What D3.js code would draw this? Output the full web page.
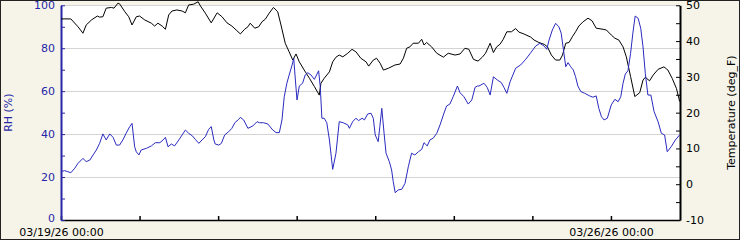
<!DOCTYPE html>
<html>
<head>
<meta charset="utf-8">
<script src="https://cdn.jsdelivr.net/npm/d3@7"></script>
<style>
  html, body { margin: 0; padding: 0; background: #fff; }
  svg text { font-family: "DejaVu Sans", Verdana, sans-serif; font-size: 11px; }
</style>
</head>
<body>
<div id="chart"></div>
<script>
// readings, hours after 03/19/26 00:00
var tempHours = [0, 3, 5.2, 6.7, 7.7, 9.3, 11.1, 11.8, 12.8, 13.8, 15.4, 16.2, 17.4, 17.9, 19.5, 20.7, 21.7, 23, 24, 25.6,
  27.6, 28.6, 29.6, 30.9, 31.9, 32.9, 33.9, 35.4, 37, 38, 39, 40.5, 41.9, 42.6, 44.1, 45.9, 47.7, 49.2, 50.7, 52.2,
  53.5, 54.8, 56.1, 57.1, 57.8, 59.2, 60.4, 61.4, 62.4, 63.6, 64.9, 66.2, 67.2, 68.5, 69.7, 70.8, 71.8, 72.8, 74.3, 75.9,
  77.4, 78.9, 79.4, 80.4, 82, 83, 84, 85, 86.1, 87.6, 88.9, 90.1, 91.6, 93.2, 94, 95.4, 96.4, 97.5, 98.5, 100,
  102, 103.6, 104.6, 105.6, 106.6, 107.6, 109.2, 110.2, 110.9, 111.7, 113.2, 114.8, 116.8, 118.3, 120.4, 121.9, 123.4, 124.6, 126, 127.4,
  128.7, 129.7, 131.1, 132.1, 133.1, 134.1, 135.1, 136.2, 137.6, 138.9, 139.9, 141.4, 143.5, 144.5, 146, 147.6, 148.6, 149.8, 151.1, 152.4,
  153.2, 154.2, 155.2, 156.2, 157.2, 158.2, 159.5, 161, 162.2, 163.5, 165.6, 166.6, 168.1, 169.2, 170.4, 171.7, 172.7, 174, 175.3, 176.8,
  177.8, 178.5, 179.8, 180.9, 182.4, 184.2, 185.4, 186.7, 188, 189];
var tempF = [46.2, 46.2, 44.0, 42.2, 44.5, 45.9, 47.0, 46.7, 46.8, 49.2, 49.4, 49.2, 50.6, 50.4, 48.2, 46.8, 44.5, 46.8, 47.0, 45.9,
  45.0, 44.2, 45.0, 44.2, 43.3, 47.3, 48.4, 48.7, 48.4, 47.9, 50.1, 50.3, 51.0, 49.8, 47.8, 45.1, 47.9, 46.8, 45.1, 44.2,
  43.1, 42.0, 43.3, 44.0, 45.0, 43.6, 44.0, 45.4, 46.1, 47.8, 49.4, 48.2, 44.5, 39.4, 37.0, 34.7, 36.4, 34.2, 31.9, 29.6,
  27.3, 24.9, 28.2, 29.6, 31.4, 34.2, 35.5, 36.1, 35.6, 36.6, 37.7, 37.0, 35.2, 34.2, 33.0, 34.7, 35.2, 33.8, 31.9, 32.4,
  33.3, 33.6, 35.2, 38.0, 38.4, 39.4, 39.4, 40.5, 38.9, 39.6, 38.4, 36.6, 35.5, 36.6, 36.1, 36.4, 38.0, 37.7, 34.9, 34.4,
  35.5, 36.6, 39.4, 36.8, 38.4, 39.1, 40.5, 42.6, 42.6, 43.5, 42.5, 42.0, 41.1, 40.3, 39.6, 39.1, 38.4, 36.1, 34.7, 34.7,
  36.1, 39.4, 39.6, 41.2, 42.6, 44.2, 45.4, 46.4, 45.7, 43.6, 43.3, 43.1, 41.7, 40.8, 40.3, 38.4, 35.6, 30.1, 24.5, 25.6,
  29.1, 29.9, 28.9, 30.5, 32.1, 32.8, 31.9, 29.6, 26.8, 23.1];

var rhHours = [0, 1.1, 2.1, 3, 4.2, 5.2, 6.7, 7.7, 8.8, 9.8, 10.8, 11.8, 12.8, 13.8, 14.9, 15.9, 16.9, 17.9, 18.9, 19.9,
  21, 21.7, 22.5, 23, 23.8, 24.5, 26.1, 27.6, 28.8, 30.2, 31.2, 31.9, 32.7, 33.7, 34.7, 36, 37, 38, 39, 40.2,
  41, 42.1, 43.1, 44.1, 45.1, 45.9, 46.7, 47.1, 48.2, 49, 50, 51.2, 52.2, 53.1, 54.3, 54.8, 55.8, 57.1, 58.6, 59.9,
  60.6, 61.9, 63.2, 64.7, 65.7, 66.7, 67.5, 68.2, 69, 69.7, 70.6, 71.1, 71.6, 72.1, 72.8, 73.8, 74.6, 75.4, 76.4, 77.4,
  78.7, 79.2, 79.7, 80.4, 81.2, 82, 83, 84, 85, 86.2, 87.6, 88.1, 89.1, 90.1, 90.9, 92, 92.7, 93.7, 94.7, 95.4,
  96, 96.9, 97.4, 98, 98.7, 99.3, 100.3, 101, 101.5, 102.1, 103, 104.1, 105.1, 106.1, 107.1, 108.1, 109.2, 110.2, 110.9, 111.9,
  112.7, 113.7, 114.8, 115.8, 116.8, 117.8, 118.8, 119.8, 121.1, 121.9, 123.1, 124.4, 125.5, 126.5, 127.2, 127.7, 129.2, 130.2, 131.1, 132.1,
  133.3, 134.5, 135.3, 136.2, 137.2, 138.9, 140.4, 142, 143.5, 145, 146.3, 147.6, 148.4, 149.1, 150.1, 151.1, 152.1, 152.8, 153.5, 154.2,
  154.9, 155.7, 156.5, 157.2, 157.9, 158.8, 160, 161.5, 162.5, 163.5, 164.3, 165.1, 165.9, 166.9, 168.1, 169.2, 170.2, 171, 171.7, 172.4,
  173.2, 174, 174.7, 175.4, 176.3, 177.1, 177.8, 178.5, 179.3, 180.2, 181.2, 182.4, 183.4, 184.4, 185.2, 186.4, 187.7, 189];
var rhPct = [22.5, 23.0, 22.5, 22.0, 24.1, 26.4, 28.7, 27.2, 27.9, 30.3, 32.6, 35.7, 40.1, 37.3, 40.1, 38.5, 34.9, 34.9, 37.3, 40.4,
  43.5, 45.0, 34.1, 31.8, 30.3, 32.6, 33.4, 34.5, 36.0, 36.0, 37.3, 38.5, 34.1, 35.4, 34.5, 37.3, 39.6, 41.9, 40.4, 39.1,
  37.6, 35.7, 37.3, 38.8, 42.2, 43.5, 37.3, 35.4, 34.9, 35.7, 39.6, 41.1, 42.7, 45.3, 46.9, 47.8, 46.6, 42.7, 43.8, 45.8,
  45.3, 45.3, 44.7, 41.9, 40.7, 40.7, 46.6, 57.4, 63.7, 67.5, 72.2, 75.3, 65.2, 55.9, 62.4, 63.7, 67.5, 68.6, 67.5, 65.5,
  69.5, 62.1, 47.4, 47.4, 45.3, 37.3, 23.6, 31.1, 45.8, 45.3, 44.3, 42.7, 45.8, 47.4, 46.3, 47.4, 46.6, 49.4, 49.7, 47.4,
  39.6, 36.5, 43.5, 52.0, 40.4, 31.1, 27.2, 23.3, 17.8, 12.7, 14.0, 14.3, 17.1, 24.8, 31.1, 30.3, 31.8, 32.9, 36.0, 34.5,
  37.3, 38.1, 40.4, 44.3, 48.9, 53.1, 54.0, 57.4, 62.4, 59.3, 57.4, 54.0, 55.9, 61.8, 62.4, 62.4, 63.7, 61.8, 58.2, 66.7,
  65.2, 64.0, 61.8, 59.0, 64.4, 70.7, 72.2, 74.9, 77.9, 81.0, 82.3, 81.0, 79.5, 83.8, 88.5, 91.6, 90.0, 87.0, 79.2, 71.4,
  73.3, 71.4, 69.9, 66.7, 62.4, 59.8, 59.0, 57.8, 57.2, 57.8, 52.0, 48.1, 46.6, 47.4, 53.6, 56.2, 55.1, 57.4, 63.7, 68.0,
  69.5, 77.6, 87.0, 95.0, 94.0, 89.3, 80.7, 68.3, 58.2, 58.2, 50.4, 45.8, 40.4, 39.6, 31.8, 34.1, 37.3, 39.6];

var rhTicks = [0, 10, 20, 30, 40, 50, 60, 70, 80, 90, 100];
var tempTicks = [-10, -5, 0, 5, 10, 15, 20, 25, 30, 35, 40, 45, 50];
var labelDays = ["03/19/26 00:00", "03/26/26 00:00"];

var width = 740,
  height = 240,
  plotLeft = 61,
  plotRight = 680,
  plotTop = 5.3,
  plotBottom = 220;

var blue = "#2626a8",
  lineBlue = "#2a2ac0";

var start = new Date(2026, 2, 19, 0, 0);
var hoursToDate = function (h) {
  return new Date(start.getTime() + h * 3600 * 1000);
};

var svg = d3
  .select("#chart")
  .append("svg")
  .attr("width", width)
  .attr("height", height);

svg
  .append("rect")
  .attr("x", 0.5)
  .attr("y", 0.5)
  .attr("width", width - 1)
  .attr("height", height - 1)
  .attr("fill", "#f6f4e9")
  .attr("stroke", "#222");

svg
  .append("rect")
  .attr("x", plotLeft)
  .attr("y", plotTop)
  .attr("width", plotRight - plotLeft)
  .attr("height", plotBottom - plotTop)
  .attr("fill", "#fff");

var xScale = d3
  .scaleTime()
  .domain([start, hoursToDate(189.1)])
  .range([plotLeft, plotRight]);
var yRH = d3.scaleLinear().domain([0, 100]).range([plotBottom, plotTop]);
var yTemp = d3.scaleLinear().domain([-10, 50]).range([plotBottom, plotTop]);

// grid at the major RH ticks
svg
  .append("g")
  .selectAll("line")
  .data(rhTicks.filter((d) => d > 0 && d % 20 === 0))
  .enter()
  .append("line")
  .attr("x1", plotLeft)
  .attr("x2", plotRight)
  .attr("y1", (d) => Math.round(yRH(d)) + 0.5)
  .attr("y2", (d) => Math.round(yRH(d)) + 0.5)
  .attr("stroke", "#d4d4d4");

var fmt = d3.timeFormat("%m/%d/%y %H:%M");

var xAxis = d3
  .axisBottom(xScale)
  .ticks(d3.timeDay.every(1))
  .tickSizeInner(-4)
  .tickSizeOuter(0)
  .tickPadding(8)
  .tickFormat((d) => (labelDays.indexOf(fmt(d)) >= 0 ? fmt(d) : ""));

var gx = svg
  .append("g")
  .attr("transform", "translate(0," + plotBottom + ")")
  .call(xAxis);
gx.selectAll("text").attr("fill", "#000");
gx.selectAll("line, path").attr("stroke", "#000").attr("stroke-width", 1.5);

var gl = svg
  .append("g")
  .attr("transform", "translate(" + plotLeft + ",0)")
  .call(
    d3
      .axisLeft(yRH)
      .tickValues(rhTicks)
      .tickSizeInner(-4)
      .tickSizeOuter(0)
      .tickPadding(6)
      .tickFormat((d) => (d % 20 === 0 ? d : ""))
  );
gl.selectAll("text").attr("fill", blue);
gl.selectAll("line").attr("stroke", blue);
gl.select("path").attr("stroke", blue).attr("stroke-width", 2);
// the 0 label sits just above the corner
gl.selectAll(".tick text").filter((d) => d === 0).attr("dy", "0.1em");

var gr = svg
  .append("g")
  .attr("transform", "translate(" + plotRight + ",0)")
  .call(
    d3
      .axisRight(yTemp)
      .tickValues(tempTicks)
      .tickSizeInner(-4)
      .tickSizeOuter(0)
      .tickPadding(6)
      .tickFormat((d) => (d % 10 === 0 ? d : ""))
  );
gr.selectAll("text").attr("fill", "#000");
gr.selectAll("line").attr("stroke", "#000");
gr.select("path").attr("stroke", "#000").attr("stroke-width", 2);

svg.selectAll(".tick text").style("font-size", "11px").style("font-family", '"DejaVu Sans", Verdana, sans-serif');

var tempLine = d3
  .line()
  .x((d, i) => xScale(hoursToDate(tempHours[i])))
  .y((d) => yTemp(d));

var rhLine = d3
  .line()
  .x((d, i) => xScale(hoursToDate(rhHours[i])))
  .y((d) => yRH(d));

svg
  .append("path")
  .attr("d", tempLine(tempF))
  .attr("fill", "none")
  .attr("stroke", "#000")
  .attr("stroke-width", 1);

svg
  .append("path")
  .attr("d", rhLine(rhPct))
  .attr("fill", "none")
  .attr("stroke", lineBlue)
  .attr("stroke-width", 1);

svg
  .append("text")
  .attr("transform", "translate(8," + (plotTop + plotBottom) / 2 + ") rotate(-90)")
  .attr("text-anchor", "middle")
  .attr("dominant-baseline", "central")
  .attr("fill", blue)
  .text("RH (%)");

svg
  .append("text")
  .attr("transform", "translate(731," + (plotTop + plotBottom) / 2 + ") rotate(-90)")
  .attr("text-anchor", "middle")
  .attr("dominant-baseline", "central")
  .attr("fill", "#000")
  .text("Temperature (deg_F)");
</script>
</body>
</html>
